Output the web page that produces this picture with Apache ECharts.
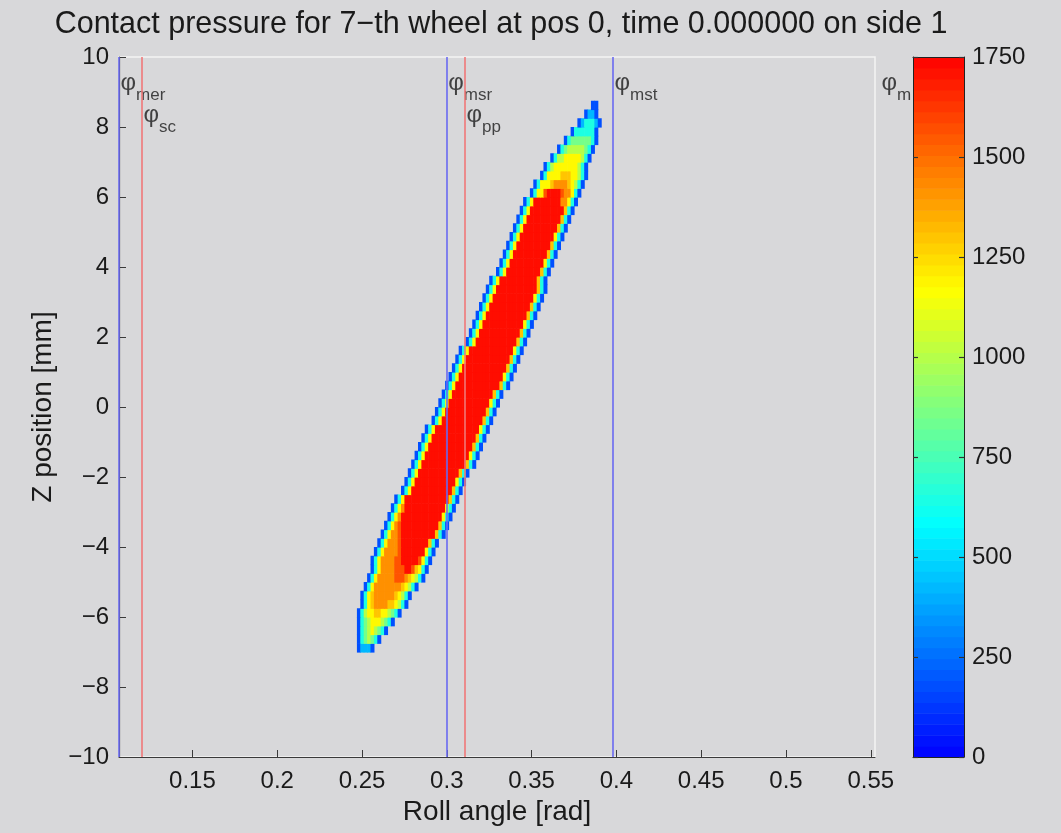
<!DOCTYPE html>
<html><head><meta charset="utf-8">
<script src="https://cdn.jsdelivr.net/npm/echarts@6/dist/echarts.min.js"></script>
<style>html,body{margin:0;padding:0;background:#d8d8da;}#c{width:1061px;height:833px;}</style>
</head><body><div id="c"></div>
<script>
// ---------- data ----------
const titleText = 'Contact pressure for 7\u2212th wheel at pos 0, time 0.000000 on side 1';
const xName = 'Roll angle [rad]';
const yName = 'Z position [mm]';
const xTicks = [0.15, 0.2, 0.25, 0.3, 0.35, 0.4, 0.45, 0.5, 0.55];
const xMin = 0.1067, xMax = 0.5525;
const yMin = -10, yMax = 10, yStep = 2;
const cbMin = 0, cbMax = 1750, cbStep = 250;
const cbColors = ['#0000ff', '#00ffff', '#ffff00', '#ff0000'];

// reference lines (phi angles)
const lineNames  = ['mer', 'sc', 'msr', 'pp', 'mst', 'm'];
const lineX      = [0.1067, 0.1202, 0.3, 0.3107, 0.398, 0.5554];
const lineKinds  = ['blue', 'red', 'blue', 'red', 'blue', 'blue'];
const labelZ     = [9.26, 8.34, 9.26, 8.34, 9.26, 9.26];

// pressure grid: cell grid x0 + c*dx, z0 + r*dz
const cellX0 = 0.245, cellDX = 0.002, cellZ0 = -7, cellDZ = 0.25;
const levelValues = {'1':180,'2':420,'3':650,'4':850,'5':1000,'6':1180,'7':1300,'8':1420,'9':1560,'R':1720};
const rowStart = [1,1,1,1,1,2,2,3,4,5,5,6,7,8,9,10,11,12,14,15,16,17,18,19,20,21,23,24,25,26,27,28,29,30,31,33,34,35,36,37,38,39,40,42,43,44,45,46,47,48,49,50,52,53,55,56,58,60,62,64,66,68,70];
const rowLevels = [
'12221',
'1345431',
'134565431',
'13456665431',
'1356677665431',
'13678888776531',
'136788888876531',
'1368888888876531',
'13688888999876531',
'1368888999RR97631',
'136888899RRRRR9631',
'13688889RRRRRRR631',
'1368889RRRRRRRR731',
'136889RRRRRRRRRR731',
'13689RRRRRRRRRRR731',
'1368RRRRRRRRRRRR631',
'1368RRRRRRRRRRRR631',
'136RRRRRRRRRRRRR731',
'136RRRRRRRRRRRR731',
'136RRRRRRRRRRRR631',
'136RRRRRRRRRRRR731',
'136RRRRRRRRRRRRR731',
'136RRRRRRRRRRRRR631',
'136RRRRRRRRRRRRR731',
'136RRRRRRRRRRRRR731',
'136RRRRRRRRRRRRR631',
'136RRRRRRRRRRRR731',
'136RRRRRRRRRRRR731',
'136RRRRRRRRRRRR631',
'136RRRRRRRRRRRR731',
'136RRRRRRRRRRRRR731',
'136RRRRRRRRRRRRR631',
'136RRRRRRRRRRRRR731',
'136RRRRRRRRRRRRR731',
'136RRRRRRRRRRRRR631',
'136RRRRRRRRRRRR731',
'136RRRRRRRRRRRR731',
'136RRRRRRRRRRRR631',
'136RRRRRRRRRRRR731',
'136RRRRRRRRRRRR731',
'136RRRRRRRRRRRR631',
'136RRRRRRRRRRRR731',
'136RRRRRRRRRRR731',
'136RRRRRRRRRR731',
'136RRRRRRRRRR631',
'136RRRRRRRRRR731',
'136RRRRRRRRRR731',
'136RRRRRRRRRR631',
'136RRRRRRRRRR731',
'136RRRRRRRRRR731',
'136RRRRRRRRRR731',
'136RRRRRRRR88631',
'13669RRRR988631',
'136667888876531',
'13666677766531',
'1356666666531',
'135566666531',
'13455555431',
'1344444431',
'13333331',
'1233321',
'1221',
'11'
];

// ---------- build ----------
const FONT = '"Liberation Sans", Arial, Helvetica, sans-serif';
const TXT = '#1a1a1a';
const cells = [];
rowLevels.forEach((str, r) => {
  const z = cellZ0 + (r + 0.5) * cellDZ;
  for (let i = 0; i < str.length; i++) {
    const c = rowStart[r] + i;
    cells.push([cellX0 + (c + 0.5) * cellDX, z, levelValues[str[i]]]);
  }
});
const nBands = 64;
const bandStep = (cbMax - cbMin) / nBands;
const bands = [];
for (let i = 0; i < nBands; i++) { const v = cbMin + (i + 0.5) * bandStep; bands.push([0.5, v, v]); }

const lineColor = {blue: '#6a6af0', red: '#f07878'};
const markLines = [];
lineX.forEach((x, i) => { if (x <= xMax) markLines.push({xAxis: x, lineStyle: {color: lineColor[lineKinds[i]], width: 1.6, type: 'solid'}}); });
const labelPts = lineNames.map((n, i) => ({name: n, value: [lineX[i], labelZ[i]]}));

const cbAxisCommon = {gridIndex: 1, type: 'value', min: cbMin, max: cbMax, interval: cbStep, zlevel: 1, z: 20,
  axisLine: {show: true, onZero: false, lineStyle: {color: '#222', width: 1}},
  axisTick: {show: true, inside: true, length: 5, lineStyle: {color: '#333', width: 1.2}},
  splitLine: {show: false}};

const chart = echarts.init(document.getElementById('c'), null, {renderer: 'canvas'});
chart.setOption({
  backgroundColor: '#d8d8da',
  animation: false,
  textStyle: {fontFamily: FONT},
  title: {text: titleText, left: 496, top: 4, textAlign: 'center',
    textStyle: {fontSize: 30.5, fontWeight: 'normal', color: TXT, fontFamily: FONT}},
  grid: [
    {left: 119, top: 57, width: 756, height: 700, show: true, borderColor: '#f4f4f4', borderWidth: 1.5, backgroundColor: 'transparent'},
    {left: 913, top: 57, width: 51, height: 700, show: false}
  ],
  xAxis: [
    {gridIndex: 0, type: 'value', min: xMin, max: xMax,
      axisLine: {show: true, onZero: false, lineStyle: {color: '#3a3a3a', width: 1.2}},
      axisTick: {show: true, inside: true, length: 7, customValues: xTicks, lineStyle: {color: '#3a3a3a'}},
      axisLabel: {customValues: xTicks, fontSize: 24, margin: 12, color: TXT, fontFamily: FONT, formatter: v => String(v)},
      splitLine: {show: false},
      name: xName, nameLocation: 'middle', nameGap: 41,
      nameTextStyle: {fontSize: 28, color: TXT, fontFamily: FONT}},
    {gridIndex: 1, type: 'value', min: 0, max: 1, position: 'bottom', zlevel: 1, z: 20,
      axisLine: {show: true, onZero: false, lineStyle: {color: '#222', width: 1}}, axisTick: {show: false}, axisLabel: {show: false}, splitLine: {show: false}},
    {gridIndex: 1, type: 'value', min: 0, max: 1, position: 'top', zlevel: 1, z: 20,
      axisLine: {show: true, onZero: false, lineStyle: {color: '#222', width: 1}}, axisTick: {show: false}, axisLabel: {show: false}, splitLine: {show: false}}
  ],
  yAxis: [
    {gridIndex: 0, type: 'value', min: yMin, max: yMax, interval: yStep,
      axisLine: {show: true, onZero: false, lineStyle: {color: '#3a3a3a', width: 1.2}},
      axisTick: {show: true, inside: true, length: 7, lineStyle: {color: '#3a3a3a'}},
      axisLabel: {fontSize: 24, margin: 10, color: TXT, fontFamily: FONT, formatter: v => String(v).replace('-', '\u2212')},
      splitLine: {show: false},
      name: yName, nameLocation: 'middle', nameGap: 62, nameRotate: 90,
      nameTextStyle: {fontSize: 28, color: TXT, fontFamily: FONT}},
    Object.assign({}, cbAxisCommon, {position: 'right',
      axisLabel: {fontSize: 24, margin: 8, color: TXT, fontFamily: FONT, formatter: v => String(v)}}),
    Object.assign({}, cbAxisCommon, {position: 'left', axisLabel: {show: false}})
  ],
  visualMap: {type: 'continuous', min: cbMin, max: cbMax, dimension: 2, seriesIndex: [1, 3], show: false,
    inRange: {color: cbColors}},
  series: [
    {type: 'scatter', name: 'lines', xAxisIndex: 0, yAxisIndex: 0, z: 1, data: [],
      markLine: {silent: true, precision: 5, symbol: ['none', 'none'], label: {show: false}, animation: false, data: markLines}},
    {type: 'custom', name: 'pressure', xAxisIndex: 0, yAxisIndex: 0, z: 2, data: cells,
      encode: {x: 0, y: 1},
      renderItem: (params, api) => {
        const x = api.value(0), z = api.value(1);
        const p0 = api.coord([x - cellDX / 2, z + cellDZ / 2]);
        const p1 = api.coord([x + cellDX / 2, z - cellDZ / 2]);
        return {type: 'rect', shape: {x: p0[0], y: p0[1], width: p1[0] - p0[0] + 0.6, height: p1[1] - p0[1] + 0.6},
          style: {fill: api.visual('color')}};
      }},
    {type: 'scatter', name: 'phiLabels', xAxisIndex: 0, yAxisIndex: 0, z: 3, clip: false,
      symbolSize: 1, itemStyle: {color: 'rgba(0,0,0,0)'}, data: labelPts,
      label: {show: true, position: 'right', distance: 1, color: TXT,
        formatter: p => '{p|\u03c6}{s|' + p.name + '}',
        rich: {p: {fontSize: 24, lineHeight: 42, fontFamily: FONT, color: TXT},
               s: {fontSize: 17, lineHeight: 17, verticalAlign: 'bottom', fontFamily: FONT, color: TXT}}}},
    {type: 'custom', name: 'colorbar', xAxisIndex: 1, yAxisIndex: 1, z: 10, data: bands,
      encode: {x: 0, y: 1},
      renderItem: (params, api) => {
        const v = api.value(1);
        const p0 = api.coord([0, v + bandStep / 2]);
        const p1 = api.coord([1, v - bandStep / 2]);
        return {type: 'rect', shape: {x: p0[0], y: p0[1], width: p1[0] - p0[0], height: p1[1] - p0[1] + 0.6},
          style: {fill: api.visual('color')}};
      }}
  ]
});
</script>
</body></html>
